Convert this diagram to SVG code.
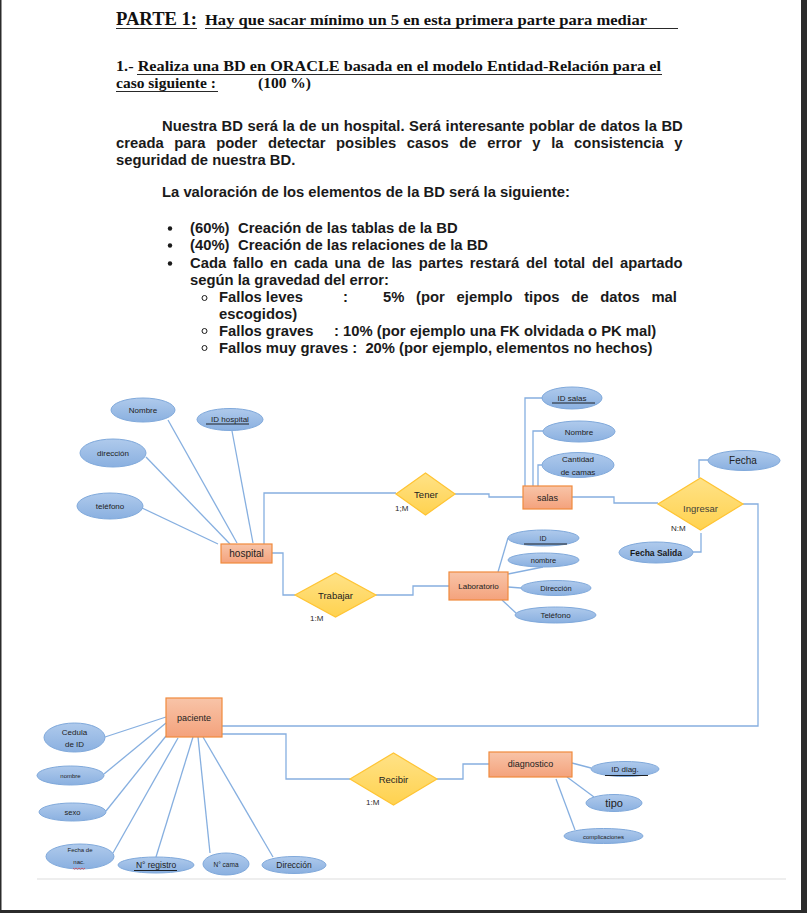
<svg xmlns="http://www.w3.org/2000/svg" width="807" height="913" viewBox="0 0 807 913">
<defs>
<linearGradient id="gEnt" x1="0" y1="0" x2="0" y2="1"><stop offset="0" stop-color="#F8C4A8"/><stop offset="1" stop-color="#F4A27C"/></linearGradient>
<linearGradient id="gRel" x1="0" y1="0" x2="0" y2="1"><stop offset="0" stop-color="#FFE287"/><stop offset="1" stop-color="#FFD24F"/></linearGradient>
<linearGradient id="gAtt" x1="0" y1="0" x2="0" y2="1"><stop offset="0" stop-color="#AFCAEC"/><stop offset="1" stop-color="#8AB0E0"/></linearGradient>
<style>
.ent{fill:url(#gEnt);stroke:#F08A3C;stroke-width:1.2}
.rel{fill:url(#gRel);stroke:#FFC433;stroke-width:1.2}
.att{fill:url(#gAtt);stroke:#80A9DB;stroke-width:1}
.ln{fill:none;stroke:#86AFE0;stroke-width:1.3}
.ul{stroke:#111;stroke-width:0.9}
.t{font-family:"Liberation Sans",Arial,sans-serif;fill:#222;text-anchor:middle}
.hd{font-family:"Liberation Serif","Times New Roman",serif;font-weight:bold;fill:#111}
.bd{font-family:"Liberation Sans",Arial,sans-serif;font-weight:bold;font-size:14.8px;fill:#1a1a1a;white-space:pre}
.card{font-family:"Liberation Sans",Arial,sans-serif;font-size:8px;fill:#2a2a2a}
</style>
</defs>
<rect x="0" y="0" width="807" height="913" fill="#ffffff"/>
<rect x="801" y="0" width="6" height="913" fill="#2b2b2b"/>
<rect x="0" y="910" width="807" height="3" fill="#2b2b2b"/>
<rect x="0" y="0" width="1.5" height="913" fill="#2b2b2b"/>
<line x1="37" y1="879" x2="786" y2="879" stroke="#e8e8e8" stroke-width="1.5"/>

<g id="header">
<text class="hd" x="116" y="25" font-size="18" textLength="81" lengthAdjust="spacingAndGlyphs">PARTE 1:</text>
<line class="ul" x1="116" y1="28.5" x2="197" y2="28.5"/>
<text class="hd" x="205" y="25" font-size="14.5" textLength="442" lengthAdjust="spacingAndGlyphs">Hay que sacar mínimo un 5 en esta primera parte para mediar</text>
<line class="ul" x1="205" y1="28.5" x2="678" y2="28.5"/>
<text class="hd" x="116" y="71" font-size="15.5" textLength="545" lengthAdjust="spacingAndGlyphs">1.- Realiza una BD en ORACLE basada en el modelo Entidad-Relación para el</text>
<line class="ul" x1="137" y1="74.5" x2="662" y2="74.5"/>
<text class="hd" x="116" y="88" font-size="15.5">caso siguiente :</text>
<line class="ul" x1="116" y1="91.5" x2="218" y2="91.5"/>
<text class="hd" x="258" y="88" font-size="15.5">(100 %)</text>
</g>

<g id="body">
<text class="bd" x="162" y="131" word-spacing="0.4">Nuestra BD será la de un hospital. Será interesante poblar de datos la BD</text>
<text class="bd" x="116" y="148" word-spacing="6.5">creada para poder detectar posibles casos de error y la consistencia y</text>
<text class="bd" x="116" y="165">seguridad de nuestra BD.</text>
<text class="bd" x="162" y="197">La valoración de los elementos de la BD será la siguiente:</text>
<circle cx="170" cy="228.5" r="2.2" fill="#1a1a1a"/>
<circle cx="170" cy="245.5" r="2.2" fill="#1a1a1a"/>
<circle cx="170" cy="263.5" r="2.2" fill="#1a1a1a"/>
<text class="bd" x="190" y="233">(60%)</text><text class="bd" x="238" y="233">Creación de las tablas de la BD</text>
<text class="bd" x="190" y="250">(40%)</text><text class="bd" x="238" y="250">Creación de las relaciones de la BD</text>
<text class="bd" x="190" y="268" word-spacing="2.6">Cada fallo en cada una de las partes restará del total del apartado</text>
<text class="bd" x="190" y="285">según la gravedad del error:</text>
<circle cx="204.5" cy="298" r="2.5" fill="none" stroke="#1a1a1a" stroke-width="1"/>
<circle cx="204.5" cy="331" r="2.5" fill="none" stroke="#1a1a1a" stroke-width="1"/>
<circle cx="204.5" cy="348" r="2.5" fill="none" stroke="#1a1a1a" stroke-width="1"/>
<text class="bd" x="219" y="302">Fallos leves</text><text class="bd" x="343" y="302">:</text>
<text class="bd" x="383" y="302" word-spacing="7.6">5% (por ejemplo tipos de datos mal</text>
<text class="bd" x="219" y="319">escogidos)</text>
<text class="bd" x="219" y="336">Fallos graves</text><text class="bd" x="334" y="336">: 10% (por ejemplo una FK olvidada o PK mal)</text>
<text class="bd" x="219" y="353">Fallos muy graves :  20% (por ejemplo, elementos no hechos)</text>
</g>

<g id="connectors">
<line class="ln" x1="168" y1="420" x2="237" y2="543"/>
<line class="ln" x1="146" y1="457" x2="230" y2="544"/>
<line class="ln" x1="142" y1="508" x2="218" y2="544"/>
<line class="ln" x1="232" y1="431" x2="253" y2="543"/>
<path class="ln" d="M264,544 V493 H396"/>
<path class="ln" d="M455,494 H489 V497 H523"/>
<path class="ln" d="M272,553 H283 V595 H295"/>
<path class="ln" d="M376,595 H413 V586 H449"/>
<path class="ln" d="M525,486 V398 H543"/>
<path class="ln" d="M533,486 V431 H543"/>
<path class="ln" d="M538,486 V465 H542"/>
<path class="ln" d="M572,497 H614 V503 H658"/>
<path class="ln" d="M699,478 V460 H708"/>
<path class="ln" d="M701,533 V552 H693"/>
<path class="ln" d="M743,504 H758 V726 H222"/>
<path class="ln" d="M222,734 H286 V779 H350"/>
<path class="ln" d="M437,779 H463 V764 H489"/>
<line class="ln" x1="498" y1="572" x2="508" y2="538"/>
<line class="ln" x1="508" y1="574" x2="543" y2="567"/>
<line class="ln" x1="508" y1="587" x2="521" y2="588"/>
<line class="ln" x1="502" y1="600" x2="516" y2="613"/>
<line class="ln" x1="105" y1="737" x2="166" y2="717"/>
<line class="ln" x1="104" y1="774" x2="166" y2="723"/>
<line class="ln" x1="106" y1="811" x2="166" y2="736"/>
<line class="ln" x1="113" y1="853" x2="178" y2="738"/>
<line class="ln" x1="156" y1="857" x2="193" y2="737"/>
<line class="ln" x1="210" y1="853" x2="198" y2="737"/>
<line class="ln" x1="273" y1="857" x2="203" y2="737"/>
<line class="ln" x1="572" y1="763" x2="591" y2="768"/>
<line class="ln" x1="567" y1="777" x2="594" y2="797"/>
<line class="ln" x1="556" y1="779" x2="575" y2="830"/>
</g>

<g id="hospital">
<rect class="ent" x="221" y="544" width="51" height="19"/>
<text class="t" x="246.5" y="557" font-size="10">hospital</text>
</g>
<g id="hospital-nombre"><ellipse class="att" cx="143" cy="410" rx="32" ry="12"/><text class="t" x="143" y="413" font-size="8">Nombre</text></g>
<g id="hospital-id"><ellipse class="att" cx="230" cy="419.5" rx="33" ry="11"/><text class="t" x="230" y="422" font-size="8">ID hospital</text><line class="ul" x1="206" y1="424" x2="249" y2="424"/></g>
<g id="hospital-direccion"><ellipse class="att" cx="113" cy="453" rx="33" ry="14"/><text class="t" x="113" y="456" font-size="8">dirección</text></g>
<g id="hospital-telefono"><ellipse class="att" cx="110" cy="506" rx="33" ry="13"/><text class="t" x="110" y="509" font-size="8">teléfono</text></g>

<g id="tener">
<polygon class="rel" points="396,494 425.5,473 455,494 425.5,515"/>
<text class="t" x="426" y="497.5" font-size="9.5">Tener</text>
<text class="card" x="395" y="511">1;M</text>
</g>

<g id="trabajar">
<polygon class="rel" points="295,595 335.5,573 376,595 335.5,617"/>
<text class="t" x="335.5" y="598.5" font-size="9.5">Trabajar</text>
<text class="card" x="310" y="621">1:M</text>
</g>

<g id="laboratorio">
<rect class="ent" x="449" y="572" width="59" height="28"/>
<text class="t" x="478.5" y="589" font-size="8">Laboratorio</text>
</g>
<g id="lab-id"><ellipse class="att" cx="543.5" cy="538" rx="35.5" ry="8"/><text class="t" x="543" y="540.5" font-size="7">ID</text><line class="ul" x1="524" y1="544" x2="567" y2="544"/></g>
<g id="lab-nombre"><ellipse class="att" cx="543.5" cy="560" rx="35.5" ry="7"/><text class="t" x="543.5" y="562.5" font-size="7.5">nombre</text></g>
<g id="lab-direccion"><ellipse class="att" cx="556" cy="588" rx="35" ry="7.5"/><text class="t" x="556" y="590.5" font-size="7.5">Dirección</text></g>
<g id="lab-telefono"><ellipse class="att" cx="555.5" cy="615" rx="40.5" ry="8"/><text class="t" x="555.5" y="618" font-size="8">Teléfono</text></g>

<g id="salas">
<rect class="ent" x="523" y="486" width="49" height="23"/>
<text class="t" x="547.5" y="500.5" font-size="9">salas</text>
</g>
<g id="salas-id"><ellipse class="att" cx="572" cy="398" rx="30" ry="11"/><text class="t" x="572" y="401" font-size="8">ID salas</text><line class="ul" x1="552" y1="403" x2="595" y2="403"/></g>
<g id="salas-nombre"><ellipse class="att" cx="579" cy="431.5" rx="36" ry="10.5"/><text class="t" x="579" y="434.5" font-size="8">Nombre</text></g>
<g id="salas-cantidad"><ellipse class="att" cx="578" cy="465" rx="36" ry="12.5"/><text class="t" x="578" y="462" font-size="8">Cantidad</text><text class="t" x="578" y="475" font-size="8">de camas</text></g>

<g id="ingresar">
<polygon class="rel" points="658,504 700.5,478 743,504 700.5,530"/>
<text class="t" x="700.5" y="512" font-size="9.5" style="fill:#3f3f3a">Ingresar</text>
<text class="card" x="671" y="531" font-size="8.5">N:M</text>
</g>
<g id="ingresar-fecha"><ellipse class="att" cx="744" cy="460.5" rx="36" ry="10"/><text class="t" x="743" y="464" font-size="10">Fecha</text></g>
<g id="ingresar-fechasalida"><ellipse class="att" cx="656" cy="552.5" rx="37" ry="10.5"/><text class="t" x="656" y="555.5" font-size="8.5" font-weight="bold" style="fill:#1a1a1a">Fecha Salida</text></g>

<g id="paciente">
<rect class="ent" x="166" y="698" width="56" height="39"/>
<text class="t" x="194" y="721" font-size="9">paciente</text>
</g>
<g id="pac-cedula"><ellipse class="att" cx="74.5" cy="737.5" rx="30.5" ry="14.5"/><text class="t" x="74.5" y="735" font-size="8">Cedula</text><text class="t" x="74.5" y="747" font-size="8">de ID</text></g>
<g id="pac-nombre"><ellipse class="att" cx="70.5" cy="775.5" rx="33.5" ry="9.5"/><text class="t" x="70.5" y="778" font-size="6">nombre</text></g>
<g id="pac-sexo"><ellipse class="att" cx="72.5" cy="812" rx="33.5" ry="9"/><text class="t" x="72.5" y="815" font-size="7.5">sexo</text></g>
<g id="pac-fecha"><ellipse class="att" cx="80" cy="856.5" rx="34" ry="12.5"/><text class="t" x="80" y="852" font-size="6">Fecha de</text><text class="t" x="79" y="864" font-size="6">nac.</text><path d="M73,868 l1.5,1.2 l1.5,-1.2 l1.5,1.2 l1.5,-1.2 l1.5,1.2 l1.5,-1.2 l1.5,1.2 l1.5,-1.2" fill="none" stroke="#e03030" stroke-width="0.7"/></g>
<g id="pac-registro"><ellipse class="att" cx="156" cy="865" rx="38" ry="8"/><text class="t" x="156" y="868" font-size="8.5">N° registro</text><line class="ul" x1="134" y1="870.5" x2="177" y2="870.5"/></g>
<g id="pac-cama"><ellipse class="att" cx="226" cy="864" rx="23" ry="11"/><text class="t" x="226" y="866.5" font-size="6.5">N° cama</text></g>
<g id="pac-direccion"><ellipse class="att" cx="294" cy="865" rx="32" ry="8.5"/><text class="t" x="294" y="868" font-size="8.5">Dirección</text></g>

<g id="recibir">
<polygon class="rel" points="350,779 393.5,753 437,779 393.5,805"/>
<text class="t" x="393.5" y="782.5" font-size="9.5">Recibir</text>
<text class="card" x="366" y="805">1:M</text>
</g>

<g id="diagnostico">
<rect class="ent" x="489" y="752" width="83" height="25"/>
<text class="t" x="530.5" y="767" font-size="9">diagnostico</text>
</g>
<g id="diag-id"><ellipse class="att" cx="625" cy="769" rx="34" ry="7.5"/><text class="t" x="625" y="771.5" font-size="8">ID diag.</text><line class="ul" x1="605" y1="775.5" x2="648" y2="775.5"/></g>
<g id="diag-tipo"><ellipse class="att" cx="614" cy="803" rx="28" ry="8.5"/><text class="t" x="614" y="807" font-size="11">tipo</text></g>
<g id="diag-complicaciones"><ellipse class="att" cx="603.5" cy="836" rx="39.5" ry="7.5"/><text class="t" x="603.5" y="838.5" font-size="6">complicaciones</text></g>
</svg>
